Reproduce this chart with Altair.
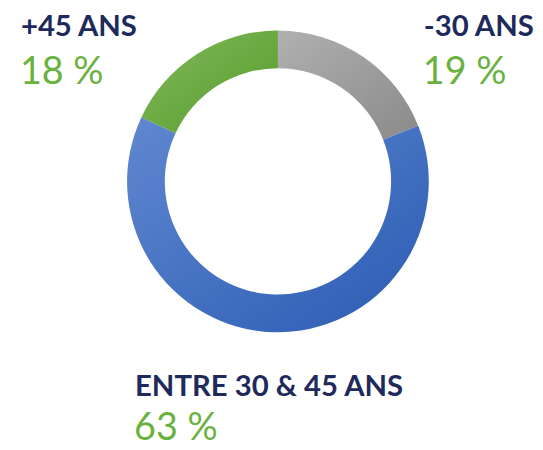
import altair as alt
import pandas as pd

categories = ["-30 ANS", "ENTRE 30 & 45 ANS", "+45 ANS"]
values = [19, 63, 18]
labels = ["19 %", "63 %", "18 %"]

df = pd.DataFrame({"cat": categories, "val": values, "order": [0, 1, 2]})

W, H = 531, 441
CX, CY = 272, 173
R_OUT, R_IN = 152, 114

def grad(c1, c2):
    return alt.LinearGradient(
        gradient="linear",
        stops=[alt.GradientStop(color=c1, offset=0), alt.GradientStop(color=c2, offset=1)],
        x1=0, y1=0, x2=1, y2=1,
    )

fills = {
    "-30 ANS": grad("#b0b0b0", "#8a8a8a"),
    "ENTRE 30 & 45 ANS": grad("#6088d0", "#2a5bb3"),
    "+45 ANS": grad("#82b95e", "#559c28"),
}

base = (
    alt.Chart(df)
    .transform_window(cum="sum(val)", sort=[alt.SortField("order")], frame=[None, 0])
    .transform_calculate(start="datum.cum - datum.val")
)

layers = []
for c in categories:
    layers.append(
        base.transform_filter(alt.datum.cat == c)
        .mark_arc(radius=R_OUT, radius2=R_IN, fill=fills[c], stroke=None)
        .encode(
            theta=alt.Theta("start:Q", scale=alt.Scale(domain=[0, 100])),
            theta2="cum:Q",
            x=alt.value(CX),
            y=alt.value(CY),
        )
    )

title_pos = {"-30 ANS": (419, 27), "ENTRE 30 & 45 ANS": (128, 389), "+45 ANS": (13, 27)}
pct_pos = {"-30 ANS": (418, 75), "ENTRE 30 & 45 ANS": (127, 434), "+45 ANS": (12, 75)}

for c, lab in zip(categories, labels):
    tx, ty = title_pos[c]
    px, py = pct_pos[c]
    layers.append(
        alt.Chart(pd.DataFrame({"t": [c]}))
        .mark_text(align="left", baseline="alphabetic", font="Lato", fontSize=29.5,
                   fontWeight=700, color="#1f2a5c")
        .encode(text="t:N", x=alt.value(tx), y=alt.value(ty))
    )
    layers.append(
        alt.Chart(pd.DataFrame({"t": [lab]}))
        .mark_text(align="left", baseline="alphabetic", font="Lato", fontSize=38,
                   fontWeight=400, color="#6ab23f")
        .encode(text="t:N", x=alt.value(px), y=alt.value(py))
    )

chart = (
    alt.layer(*layers)
    .properties(width=W, height=H, autosize=alt.AutoSizeParams(type="none"), padding=0)
    .configure_view(stroke=None)
)

chart.save("out.html", embed_options={"renderer": "svg", "actions": False})
